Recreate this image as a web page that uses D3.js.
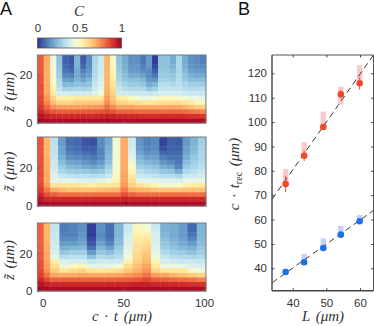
<!DOCTYPE html>
<html>
<head>
<meta charset="utf-8">
<script src="https://cdn.jsdelivr.net/npm/d3@7"></script>
<style>
body { margin: 0; background: #fff; }
text { font-family: "Liberation Sans", sans-serif; fill: #333; }
.math { font-family: "Liberation Serif", serif; font-style: italic; font-size: 15px; word-spacing: 2px; }
</style>
</head>
<body>
<div class="canva"></div>
<script>
// concentration columns, top row to bottom row, in percent of C
const conc1 = [
  [83,83,83,83,84,84,85,85,85,86,87,89,92,96,99],
  [70,70,70,69,69,70,70,70,71,73,76,81,87,93,98],
  [44,44,45,46,47,48,50,53,56,62,67,74,84,92,98],
  [25,25,26,27,28,30,32,34,38,53,62,72,83,92,98],
  [7,7,8,10,13,18,23,29,38,55,62,72,83,92,98],
  [5,5,6,8,12,17,23,29,37,55,63,72,83,92,98],
  [22,22,21,20,20,22,25,30,37,57,64,72,83,92,98],
  [5,6,8,12,15,19,24,29,37,56,64,72,83,92,98],
  [14,14,15,16,18,22,25,30,37,57,64,73,83,92,98],
  [30,30,31,31,32,33,35,37,40,57,64,73,84,92,98],
  [37,37,37,37,38,39,40,42,46,58,65,74,84,93,98],
  [68,68,68,68,68,68,68,69,70,72,75,80,86,93,99],
  [47,48,50,52,54,56,58,60,62,65,68,75,84,93,98],
  [25,25,26,27,28,30,33,35,38,56,62,71,82,92,98],
  [20,20,21,22,24,26,29,32,37,55,62,71,82,92,98],
  [15,15,16,17,20,24,27,31,36,50,60,71,82,92,98],
  [15,15,16,17,20,24,27,31,36,46,60,70,81,92,98],
  [10,11,12,14,18,22,26,30,36,44,58,70,81,91,98],
  [17,17,16,14,14,17,20,26,35,44,58,70,81,91,98],
  [1,1,3,6,10,16,22,28,36,46,58,70,81,91,98],
  [25,25,25,26,27,29,32,35,38,50,60,70,81,91,98],
  [25,25,25,26,27,29,32,35,38,50,60,70,81,91,98],
  [20,20,22,24,26,28,31,34,38,50,60,70,81,91,98],
  [30,30,30,30,31,32,33,35,38,48,60,70,81,91,98],
  [20,20,21,23,25,27,30,33,37,46,58,68,80,91,98],
  [15,15,16,18,21,24,28,32,36,44,56,66,79,90,98],
  [14,14,15,17,20,24,28,32,36,43,52,64,78,90,98],
  [12,12,14,17,20,24,28,32,36,42,50,62,76,89,97]
];
const conc2 = [
  [84,84,84,84,84,84,85,85,85,85,86,88,92,96,99],
  [68,68,68,68,69,69,70,70,70,70,72,78,85,92,98],
  [33,33,34,34,35,36,37,38,40,43,58,70,82,92,98],
  [17,17,18,19,21,24,27,30,36,42,58,68,80,92,98],
  [9,9,10,12,15,19,23,28,34,42,58,66,80,92,98],
  [8,8,9,11,14,18,22,27,33,40,57,66,80,92,98],
  [5,5,6,9,12,16,20,26,33,40,57,66,80,92,98],
  [4,4,6,8,11,14,19,25,32,40,55,66,80,92,98],
  [14,14,13,13,14,17,21,26,33,42,57,67,80,92,98],
  [20,20,21,22,23,25,28,31,36,45,58,68,80,92,98],
  [46,46,46,46,47,47,47,48,50,53,58,68,80,92,98],
  [70,70,70,70,70,70,70,70,71,71,73,78,85,93,99],
  [37,37,38,39,41,44,48,52,57,60,63,70,82,92,98],
  [16,16,17,19,22,25,28,32,36,42,58,68,80,92,98],
  [12,12,13,15,18,22,26,30,35,42,56,68,80,92,98],
  [14,14,14,16,18,21,25,29,34,42,52,66,80,92,98],
  [2,2,4,8,12,16,21,26,32,40,48,65,80,92,98],
  [7,7,7,8,10,14,19,25,32,40,48,65,80,92,98],
  [6,6,7,8,10,11,13,20,30,40,48,65,80,92,98],
  [17,17,18,19,21,24,27,31,36,43,55,66,80,92,98],
  [22,22,23,24,26,28,30,33,37,43,56,66,80,92,98],
  [28,28,29,30,30,31,33,35,38,44,56,66,80,92,98]
];
const conc3 = [
  [82,82,82,82,82,83,83,83,84,85,86,88,92,96,99],
  [68,68,68,68,69,69,70,70,71,72,74,79,86,93,98],
  [35,35,36,36,37,38,39,42,55,60,64,71,82,92,98],
  [11,11,12,14,17,21,26,32,40,44,58,70,82,92,98],
  [12,12,12,14,17,22,28,33,38,50,60,70,82,92,98],
  [15,15,16,17,19,23,28,33,38,52,62,71,82,92,98],
  [1,1,1,3,5,10,17,25,35,42,58,70,82,92,98],
  [15,15,14,15,18,22,26,31,37,42,57,70,82,92,98],
  [9,9,9,10,13,18,24,30,36,42,58,71,82,92,98],
  [22,22,22,23,24,27,29,32,37,46,60,71,82,92,98],
  [36,37,38,39,40,41,43,46,54,60,65,73,83,92,98],
  [50,52,54,56,58,59,60,61,63,66,69,75,84,93,98],
  [45,48,53,58,60,62,64,66,68,71,74,79,86,93,98],
  [36,37,38,39,40,41,42,45,53,57,62,72,83,92,98],
  [21,21,22,24,26,28,31,35,38,44,58,71,82,92,98],
  [20,20,20,21,23,25,28,32,37,44,58,68,81,92,98],
  [17,17,17,18,20,23,27,31,36,42,57,66,80,91,98],
  [8,8,10,13,17,21,25,30,36,40,47,64,79,90,98],
  [22,22,22,23,24,26,28,31,35,39,45,62,77,90,98]
];
const zMax = [28.5, 36, 36.3];
const zTicks = [0, 20];
const ctTicks = [0, 50, 100];
const cbTicks = [0, 0.5, 1];

const lengths = [37.9, 43.4, 49.1, 54.3, 59.9];
const redTrec = [74.6, 86.2, 98, 111.4, 115.9];
const redErr = [3.4, 2.2, 1, 1.8, 2.6];
const redBand = [[74, 80.7], [86, 91.7], [98, 104.3], [107.2, 114.5], [117, 123.3]];
const blueTrec = [38.5, 42.5, 48.3, 53.8, 59.3];
const blueErr = [0.6, 0.8, 0.8, 0.8, 0.8];
const blueBand = [[38.5, 39.8], [42, 45.9], [48, 52.3], [53.8, 57.4], [59, 61.9]];
const redFit = [[33.9, 68.4], [64, 127.5]];
const blueFit = [[33.9, 34.1], [64, 63.7]];
const lTicks = [40, 50, 60];
const trecTicks = [40, 50, 60, 70, 80, 90, 100, 110, 120];

const svg = d3.select(".canva").append("svg")
    .attr("width", 374)
    .attr("height", 326)
    .style("display", "block");

const color = d3.scaleSequential(d3.interpolateRdYlBu).domain([100, 0]);

svg.append("text").attr("x", 0).attr("y", 15).style("font-size", "18px").style("fill", "#111").text("A");
svg.append("text").attr("x", 238).attr("y", 15).style("font-size", "18px").style("fill", "#111").text("B");

// colorbar
const cbScale = d3.scaleLinear().domain([0, 1]).range([37.5, 121.5]);
const grad = svg.append("defs").append("linearGradient").attr("id", "cb");
d3.range(0, 1.01, 0.05).forEach(t => {
    grad.append("stop").attr("offset", t).attr("stop-color", color(t * 100));
});
svg.append("rect")
    .attr("x", cbScale(0))
    .attr("y", 38)
    .attr("width", cbScale(1) - cbScale(0))
    .attr("height", 10)
    .attr("fill", "url(#cb)")
    .attr("stroke", "#555")
    .attr("stroke-width", 0.8);
const cbAxis = d3.axisTop(cbScale).tickValues(cbTicks).tickFormat(d3.format("")).tickSize(0).tickPadding(6);
const cbG = svg.append("g").attr("transform", "translate(0,38)").call(cbAxis);
cbG.select(".domain").remove();
cbG.selectAll("text").style("font-size", "11.5px").style("font-family", "Liberation Sans").style("fill", "#333");
svg.append("text").attr("class", "math").attr("x", 79).attr("y", 16).attr("text-anchor", "middle").text("C");

// panel A heatmaps
const ctScale = d3.scaleLinear().domain([0, 100]).range([42.7, 204]);
const panels = [
    {conc: conc1, top: 55, bottom: 123, labelShift: 3},
    {conc: conc2, top: 137, bottom: 206, labelShift: 0},
    {conc: conc3, top: 223, bottom: 291, labelShift: 3}
];

panels.forEach((p, k) => {
    const n = p.conc.length;
    const step = (101.2 - 4.7) / (n - 2);
    const edges = [-3.3, 0.6].concat(d3.range(n - 1).map(i => 4.7 + i * step));
    const yBand = d3.scaleBand().domain(d3.range(15)).range([p.top, p.bottom]);
    const zScale = d3.scaleLinear().domain([0, zMax[k]]).range([p.bottom, p.top]);
    const g = svg.append("g");

    g.selectAll("g")
        .data(p.conc)
        .enter()
        .append("g")
        .each(function (col, i) {
            d3.select(this).selectAll("rect")
                .data(col)
                .enter()
                .append("rect")
                .attr("x", ctScale(edges[i]))
                .attr("width", ctScale(edges[i + 1]) - ctScale(edges[i]) + 0.4)
                .attr("y", (d, r) => yBand(r))
                .attr("height", yBand.bandwidth() + 0.4)
                .attr("fill", d => color(d));
        });

    g.append("rect")
        .attr("x", ctScale(edges[0]))
        .attr("y", p.top)
        .attr("width", ctScale(edges[n]) - ctScale(edges[0]))
        .attr("height", p.bottom - p.top)
        .attr("fill", "none")
        .attr("stroke", "#7a7a7a")
        .attr("stroke-width", 1);

    const zAxis = d3.axisLeft(zScale).tickValues(zTicks).tickSize(-2).tickPadding(5);
    const zG = svg.append("g").attr("transform", `translate(${ctScale(edges[0])},0)`).call(zAxis);
    zG.select(".domain").remove();
    zG.selectAll("line").attr("stroke", "#666");
    zG.selectAll("text").style("font-size", "11.5px").style("font-family", "Liberation Sans").style("fill", "#333");

    const ctAxis = d3.axisBottom(ctScale).tickValues(ctTicks).tickSize(-2).tickPadding(8);
    const ctG = svg.append("g").attr("transform", `translate(0,${p.bottom})`).call(ctAxis);
    ctG.select(".domain").remove();
    ctG.selectAll("line").attr("stroke", "#666");
    ctG.selectAll("text")
        .style("font-size", "11.5px")
        .style("font-family", "Liberation Sans")
        .style("fill", "#333")
        .style("display", k === 2 ? null : "none");

    svg.append("text")
        .attr("class", "math")
        .attr("text-anchor", "middle")
        .attr("transform", `translate(14,${(p.top + p.bottom) / 2 + p.labelShift}) rotate(-90)`)
        .text("z\u0303 (\u03bcm)");
});

svg.append("text")
    .attr("class", "math")
    .attr("x", 122)
    .attr("y", 321)
    .attr("text-anchor", "middle")
    .text("c \u00b7 t (\u03bcm)");

// panel B
const lScale = d3.scaleLinear().domain([40, 60]).range([292.7, 360]);
const trecScale = d3.scaleLinear().domain([40, 120]).range([268.3, 73.3]);
const bx0 = 272, bx1 = 373.5, by0 = 290.7, by1 = 55;

const bands = [
    {band: redBand, fill: "#fbc9c9"},
    {band: blueBand, fill: "#c3d3f6"}
];
bands.forEach(b => {
    svg.append("g").selectAll("rect")
        .data(b.band)
        .enter()
        .append("rect")
        .attr("x", (d, i) => lScale(lengths[i]) - 2.7)
        .attr("width", 5.4)
        .attr("y", d => trecScale(d[1]))
        .attr("height", d => trecScale(d[0]) - trecScale(d[1]))
        .attr("fill", b.fill);
});

const fitLine = d3.line().x(d => lScale(d[0])).y(d => trecScale(d[1]));
[redFit, blueFit].forEach(f => {
    svg.append("path")
        .attr("d", fitLine(f))
        .attr("fill", "none")
        .attr("stroke", "#222")
        .attr("stroke-width", 0.9)
        .attr("stroke-dasharray", "6 4");
});

const series = [
    {y: redTrec, err: redErr, fill: "#ef4a2c"},
    {y: blueTrec, err: blueErr, fill: "#1f6fe8"}
];
series.forEach(s => {
    svg.append("g").selectAll("line")
        .data(s.y)
        .enter()
        .append("line")
        .attr("x1", (d, i) => lScale(lengths[i]))
        .attr("x2", (d, i) => lScale(lengths[i]))
        .attr("y1", (d, i) => trecScale(d - s.err[i]))
        .attr("y2", (d, i) => trecScale(d + s.err[i]))
        .attr("stroke", s.fill)
        .attr("stroke-width", 1);
    svg.append("g").selectAll("circle")
        .data(s.y)
        .enter()
        .append("circle")
        .attr("cx", (d, i) => lScale(lengths[i]))
        .attr("cy", d => trecScale(d))
        .attr("r", 3.3)
        .attr("fill", s.fill);
});

const spines = [
    [bx0, by0, bx0, by1, 1.4],
    [bx0, by0, bx1, by0, 1.4],
    [bx0, by1, bx1, by1, 0.9],
    [bx1, by1, bx1, by0, 0.9]
];
svg.append("g").selectAll("line")
    .data(spines)
    .enter()
    .append("line")
    .attr("x1", d => d[0]).attr("y1", d => d[1])
    .attr("x2", d => d[2]).attr("y2", d => d[3])
    .attr("stroke", "#444")
    .attr("stroke-width", d => d[4]);

const styleAxis = g => {
    g.select(".domain").remove();
    g.selectAll("line").attr("stroke", "#444");
    g.selectAll("text").style("font-size", "11.5px").style("font-family", "Liberation Sans").style("fill", "#333");
};
svg.append("g").attr("transform", `translate(${bx0},0)`)
    .call(d3.axisLeft(trecScale).tickValues(trecTicks).tickSize(-2.5).tickPadding(5)).call(styleAxis);
svg.append("g").attr("transform", `translate(0,${by0})`)
    .call(d3.axisBottom(lScale).tickValues(lTicks).tickSize(-2.5).tickPadding(8)).call(styleAxis);
svg.append("g").attr("transform", `translate(${bx1},0)`)
    .call(d3.axisRight(trecScale).tickValues(trecTicks).tickSize(-2.5).tickFormat("")).call(styleAxis);
svg.append("g").attr("transform", `translate(0,${by1})`)
    .call(d3.axisTop(lScale).tickValues(lTicks).tickSize(-2.5).tickFormat("")).call(styleAxis);

svg.append("text")
    .attr("class", "math")
    .attr("x", 323)
    .attr("y", 321)
    .attr("text-anchor", "middle")
    .text("L (\u03bcm)");

const trecLabel = svg.append("text")
    .attr("class", "math")
    .attr("text-anchor", "middle")
    .attr("transform", "translate(239,174) rotate(-90)");
trecLabel.append("tspan").text("c \u00b7 t");
trecLabel.append("tspan").attr("dy", 3).style("font-size", "10px").style("font-style", "normal").text("rec");
trecLabel.append("tspan").attr("dy", -3).text(" (\u03bcm)");
</script>
</body>
</html>
